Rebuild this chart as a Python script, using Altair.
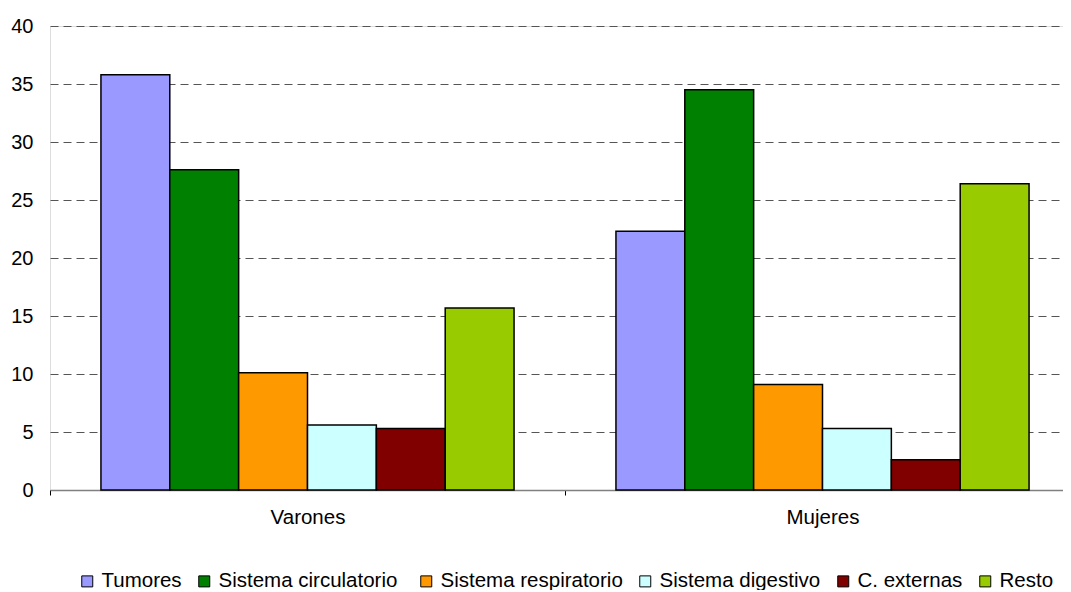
import altair as alt
import pandas as pd

groups = ["Varones", "Mujeres"]
causes = ["Tumores", "Sistema  circulatorio", "Sistema respiratorio",
          "Sistema digestivo", "C. externas", "Resto"]
varones = [35.8, 27.6, 10.1, 5.6, 5.3, 15.7]
mujeres = [22.3, 34.5, 9.1, 5.3, 2.6, 26.4]
colors = ["#9999FF", "#008000", "#FF9900", "#CCFFFF", "#800000", "#99CC00"]
y_ticks = [0, 5, 10, 15, 20, 25, 30, 35, 40]

rows = []
for g, vals in zip(groups, [varones, mujeres]):
    for c, v in zip(causes, vals):
        rows.append({"grupo": g, "causa": c, "valor": v})
df = pd.DataFrame(rows)

FONT = "Liberation Sans"

chart = alt.Chart(df).mark_bar(stroke="black", strokeWidth=1.5).encode(
    x=alt.X("grupo:N", sort=groups, title=None,
            scale=alt.Scale(range=[0, 1030], paddingInner=0, paddingOuter=0),
            axis=alt.Axis(labelAngle=0, tickBand="extent", tickSize=5,
                          tickColor="black", domainColor="#808080",
                          domainWidth=1.5, labelPadding=12, labelFontSize=20.5,
                          labelFont=FONT, labelColor="black", grid=False)),
    xOffset=alt.XOffset("causa:N", sort=causes,
                        scale=alt.Scale(paddingInner=0, paddingOuter=0.74)),
    y=alt.Y("valor:Q", title=None,
            scale=alt.Scale(domain=[0, 40], nice=False),
            axis=alt.Axis(values=y_ticks, domain=False, ticks=False,
                          labelPadding=17, labelFontSize=20, labelFont=FONT,
                          labelColor="black", grid=True, gridColor="#555555",
                          gridDash=[8, 5], gridWidth=1)),
    fill=alt.Fill("causa:N", sort=causes,
                  scale=alt.Scale(domain=causes, range=colors),
                  legend=alt.Legend(title=None, orient="none", direction="horizontal",
                                    legendX=27, legendY=545,
                                    symbolType="square", symbolSize=121,
                                    symbolStrokeColor="black", symbolStrokeWidth=1,
                                    labelFontSize=20.5, labelFont=FONT,
                                    labelColor="black", labelOffset=4,
                                    columnPadding=12, labelLimit=400)),
).properties(
    width=1013, height=464,
    autosize=alt.AutoSizeParams(type="none"),
    padding={"left": 42, "top": 18, "right": 0, "bottom": 100},
).configure_view(stroke=None).configure(background="white")

chart.save("out.html", embed_options={"renderer": "svg", "actions": False})
